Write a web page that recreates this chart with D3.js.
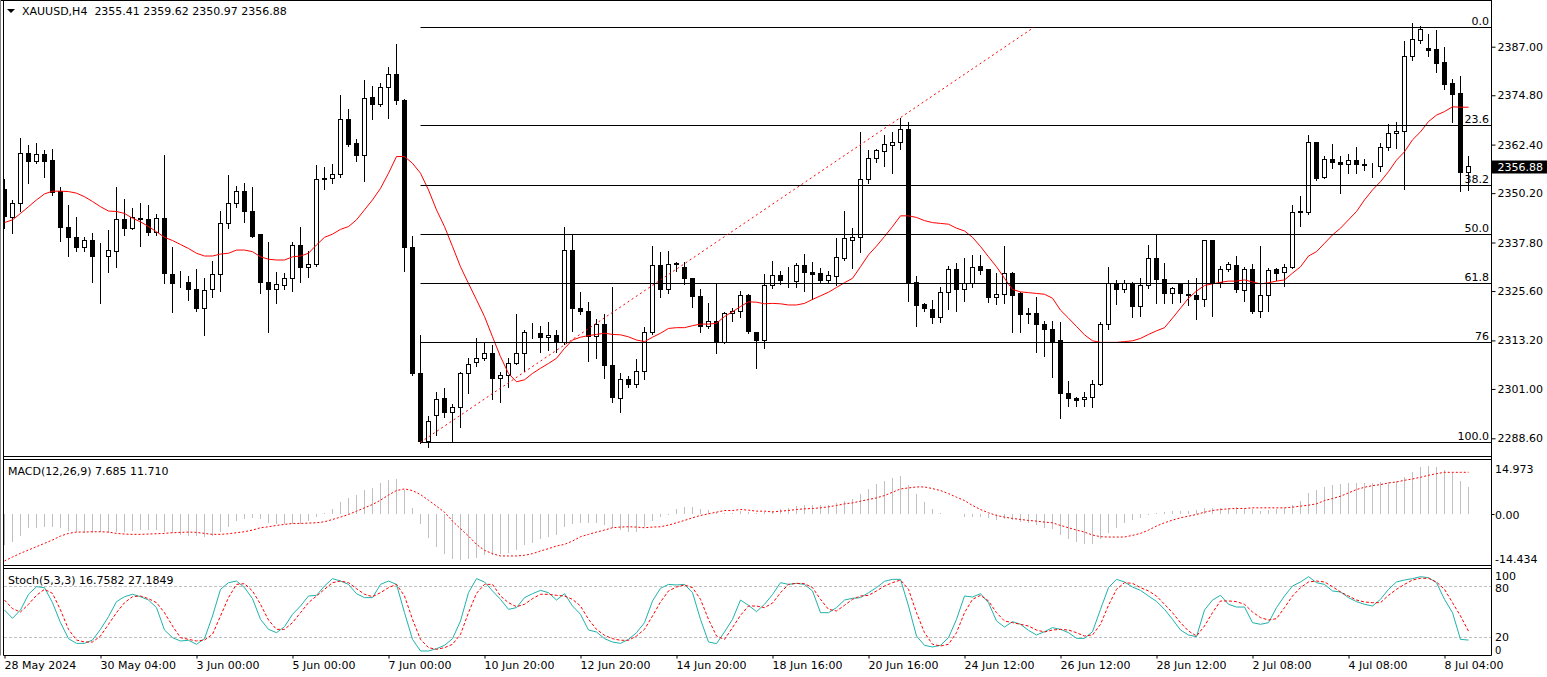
<!DOCTYPE html>
<html><head><meta charset="utf-8">
<script src="https://cdn.jsdelivr.net/npm/d3@7"></script>
<style>
html,body{margin:0;padding:0;background:#fff;overflow:hidden;}
svg{display:block;}
text{font-family:"DejaVu Sans",sans-serif;font-size:11px;fill:#000;}
</style></head><body>
<svg id="c" width="1547" height="677"></svg>
<script>
// ---------- DATA ----------
const symbolTitle = "XAUUSD,H4";
const lastOHLC = "2355.41 2359.62 2350.97 2356.88";
const macdTitle = "MACD(12,26,9) 7.685 11.710";
const stochTitle = "Stoch(5,3,3) 16.7582 27.1849";

const timeLabels = ["28 May 2024","30 May 04:00","3 Jun 00:00","5 Jun 00:00","7 Jun 00:00","10 Jun 20:00","12 Jun 20:00","14 Jun 20:00","18 Jun 16:00","20 Jun 16:00","24 Jun 12:00","26 Jun 12:00","28 Jun 12:00","2 Jul 08:00","4 Jul 08:00","8 Jul 04:00"];
const timeLabelBars = [0,12,24,36,48,60,72,84,96,108,120,132,144,156,168,180];

const priceTicks = [2387.00,2374.80,2362.40,2350.20,2337.80,2325.60,2313.20,2301.00,2288.60];
const lastPrice = 2356.88;

const fibLevels = [0,23.6,38.2,50,61.8,76,100];
const fibLabels = ["0.0","23.6","38.2","50.0","61.8","76","100.0"];
const fibHigh = 2391.9, fibLow = 2287.6;
const fibBars = [52, 128.7];

const macdScaleLabels = ["14.973","0.00","-14.434"];
const macdMax = 14.973, macdMin = -14.434;
const stochLevels = [80,20];
const stochScaleLabels = ["100","80","20","0"];

const open = [2351.0,2344.1,2347.5,2360.2,2358.1,2359.8,2358.3,2350.6,2341.6,2339.1,
2336.5,2338.4,2334.3,2334.2,2335.5,2343.6,2341.4,2343.9,2343.6,2340.3,
2343.9,2329.8,2327.5,2327.8,2325.9,2321.3,2325.9,2329.8,2342.6,2347.6,
2350.6,2345.7,2339.7,2327.8,2326.0,2327.0,2328.8,2337.0,2331.5,2332.3,
2353.7,2353.9,2355.0,2368.6,2362.7,2359.6,2374.3,2372.4,2376.8,2380.1,
2373.6,2336.6,2304.9,2287.8,2294.3,2298.5,2295.1,2296.4,2304.9,2307.6,
2308.7,2309.8,2303.7,2304.3,2307.4,2310.0,2315.1,2315.0,2314.0,2314.4,
2312.6,2335.7,2321.3,2320.4,2314.3,2317.1,2307.0,2298.7,2303.4,2302.2,
2305.5,2315.2,2331.9,2326.0,2332.6,2331.6,2328.8,2324.3,2316.7,2317.9,
2312.6,2320.0,2320.4,2324.4,2315.2,2313.1,2326.9,2329.4,2328.3,2327.9,
2331.9,2330.3,2329.9,2328.2,2329.2,2333.8,2338.3,2339.1,2353.7,2358.9,
2360.6,2362.1,2363.0,2366.2,2327.8,2322.3,2321.0,2319.0,2325.3,2330.9,
2326.0,2327.5,2331.7,2330.9,2323.9,2324.8,2330.1,2324.9,2319.9,2320.0,
2317.1,2316.0,2313.1,2299.9,2298.6,2298.4,2298.9,2302.2,2317.1,2327.5,
2326.0,2327.5,2321.7,2327.0,2333.8,2328.5,2324.9,2327.3,2324.8,2324.6,
2323.5,2338.2,2327.7,2330.9,2332.0,2325.7,2330.9,2320.4,2324.4,2330.9,
2330.2,2331.5,2345.3,2345.4,2362.9,2354.2,2358.7,2357.9,2357.4,2358.4,
2357.5,2356.9,2356.9,2361.7,2365.2,2365.6,2384.5,2388.5,2386.6,2386.2,
2383.1,2377.8,2375.3,2355.41];
const high = [2353.8,2348.5,2364.1,2362.3,2362.7,2361.0,2361.3,2351.7,2347.2,2344.1,
2339.3,2340.1,2337.6,2340.9,2351.7,2348.7,2346.4,2347.6,2347.2,2345.0,
2359.8,2336.6,2330.7,2329.4,2331.1,2329.0,2333.2,2345.7,2354.8,2352.0,
2352.8,2351.7,2339.9,2337.8,2330.3,2330.2,2337.8,2341.6,2335.7,2357.3,
2356.7,2357.5,2374.9,2371.3,2363.7,2378.6,2377.1,2378.0,2381.8,2387.7,
2373.8,2339.4,2314.6,2294.2,2300.2,2301.2,2297.2,2305.2,2308.7,2313.7,
2312.5,2312.0,2305.2,2308.7,2319.8,2315.8,2317.5,2316.8,2317.7,2315.8,
2341.8,2339.7,2325.3,2322.8,2318.6,2319.8,2326.7,2305.1,2304.3,2308.5,
2316.5,2336.8,2335.5,2335.7,2333.0,2332.8,2328.9,2326.1,2322.7,2327.5,
2320.4,2321.3,2325.6,2324.9,2315.3,2329.9,2333.2,2330.6,2331.7,2332.7,
2334.9,2333.0,2331.5,2330.6,2339.0,2345.8,2341.4,2365.6,2361.0,2361.2,
2364.8,2365.5,2369.0,2368.0,2329.4,2322.7,2323.4,2326.7,2331.9,2332.6,
2334.0,2334.7,2334.7,2331.1,2330.1,2336.9,2330.5,2325.3,2321.3,2324.0,
2318.1,2318.2,2317.9,2303.0,2299.1,2300.2,2303.3,2317.7,2331.7,2328.4,
2328.5,2327.9,2328.8,2337.2,2339.9,2332.6,2326.7,2327.7,2328.5,2329.0,
2338.4,2338.4,2331.9,2333.0,2334.4,2331.7,2332.4,2336.8,2331.5,2331.3,
2332.4,2347.2,2349.5,2364.8,2363.0,2359.5,2362.5,2359.5,2360.0,2361.7,
2358.9,2357.7,2362.9,2367.5,2368.0,2388.5,2392.9,2392.2,2390.1,2391.2,
2386.8,2378.8,2379.6,2359.62];
const low = [2341.4,2340.1,2345.8,2352.7,2357.7,2354.3,2349.7,2338.3,2334.5,2335.7,
2335.7,2327.9,2322.5,2330.5,2331.7,2339.7,2341.3,2336.8,2339.7,2339.7,
2327.5,2320.4,2326.7,2323.4,2320.7,2314.6,2324.2,2325.6,2341.4,2346.8,
2343.0,2339.1,2325.2,2315.4,2322.5,2326.0,2325.7,2327.9,2329.2,2331.9,
2351.2,2352.7,2354.3,2362.1,2358.4,2353.3,2368.8,2372.2,2369.2,2372.6,
2330.7,2304.4,2287.5,2286.5,2289.4,2293.9,2287.8,2291.5,2300.1,2306.8,
2308.3,2298.5,2297.6,2301.4,2307.3,2305.6,2313.7,2310.4,2310.8,2310.4,
2312.3,2315.6,2319.8,2307.9,2308.9,2303.7,2297.6,2295.3,2301.6,2301.4,
2303.4,2314.7,2324.0,2325.2,2330.7,2327.4,2321.5,2315.4,2316.2,2310.0,
2312.5,2318.2,2319.0,2315.0,2306.3,2311.4,2326.3,2327.3,2326.5,2326.7,
2325.7,2323.6,2327.8,2327.9,2327.1,2333.4,2331.5,2335.3,2352.7,2358.1,
2356.9,2355.2,2361.2,2323.2,2316.7,2320.7,2317.5,2317.7,2321.1,2320.7,
2323.2,2326.7,2329.9,2322.9,2322.4,2322.7,2315.4,2315.4,2317.6,2310.4,
2309.3,2304.1,2293.6,2296.8,2296.6,2296.6,2296.4,2302.0,2316.0,2322.3,
2325.4,2319.0,2319.4,2326.3,2322.7,2322.7,2322.7,2322.8,2322.1,2318.5,
2321.8,2319.3,2326.5,2330.7,2325.4,2323.2,2320.2,2319.0,2320.7,2328.4,
2326.9,2331.3,2342.0,2344.9,2353.5,2354.1,2356.4,2350.3,2355.3,2355.3,
2356.0,2354.2,2355.8,2361.0,2361.5,2351.2,2383.7,2388.0,2384.7,2380.6,
2376.4,2368.2,2350.8,2350.97];
const close = [2344.3,2347.5,2360.2,2358.1,2360.0,2358.1,2350.3,2341.5,2339.0,2336.5,
2338.4,2334.2,2334.2,2335.9,2343.6,2341.4,2344.0,2343.5,2340.3,2343.9,
2330.1,2327.5,2327.4,2325.9,2321.3,2325.7,2329.8,2342.6,2347.6,2350.6,
2345.5,2339.4,2327.7,2326.0,2327.3,2328.8,2337.0,2331.5,2332.3,2353.7,
2353.9,2355.0,2368.6,2362.5,2359.6,2374.0,2372.5,2376.8,2380.1,2373.4,
2336.6,2304.8,2287.8,2292.8,2298.4,2295.0,2296.4,2304.9,2307.2,2308.7,
2309.8,2303.7,2304.3,2307.4,2310.0,2315.2,2315.2,2314.0,2314.4,2312.6,
2335.7,2321.3,2320.4,2314.3,2317.1,2306.8,2298.9,2303.4,2302.2,2305.5,
2315.2,2331.9,2326.0,2332.3,2332.3,2328.8,2324.2,2316.7,2317.9,2312.6,
2320.0,2320.4,2324.4,2315.4,2313.1,2326.9,2329.4,2328.2,2328.2,2331.9,
2330.2,2329.8,2328.2,2329.4,2334.0,2338.7,2339.1,2353.7,2358.9,2360.8,
2362.3,2363.0,2366.2,2327.7,2321.9,2321.3,2319.0,2325.3,2330.9,2326.0,
2327.5,2331.6,2330.7,2323.9,2324.8,2330.1,2324.4,2319.7,2319.7,2317.2,
2316.0,2312.9,2299.9,2298.6,2298.1,2298.9,2302.2,2317.1,2327.5,2326.0,
2327.5,2321.7,2327.1,2333.8,2328.5,2324.9,2326.3,2324.9,2324.4,2323.5,
2338.2,2327.7,2330.9,2332.2,2326.0,2330.9,2320.4,2324.4,2330.7,2329.9,
2331.5,2345.3,2345.5,2362.9,2353.9,2358.7,2357.9,2357.4,2358.4,2357.4,
2357.1,2357.0,2361.7,2365.2,2365.6,2384.5,2388.8,2391.2,2386.0,2382.8,
2377.6,2375.1,2355.3,2356.88];
const maValues = [2342.8,2343.5,2345.1,2346.8,2348.5,2350.0,2350.7,2350.7,2350.6,2350.2,
2349.3,2348.1,2346.8,2345.7,2345.6,2345.1,2343.9,2343.0,2341.8,2340.5,
2339.1,2338.3,2337.3,2336.3,2335.1,2334.4,2334.4,2334.9,2335.1,2335.9,
2335.9,2335.5,2334.2,2333.6,2333.4,2333.4,2334.2,2334.4,2335.1,2337.2,
2339.1,2339.9,2341.1,2341.8,2343.5,2346.0,2348.5,2351.4,2355.2,2359.4,
2359.4,2357.7,2355.2,2351.0,2346.0,2341.8,2336.8,2331.7,2327.5,2323.4,
2319.2,2314.1,2309.1,2304.9,2302.8,2303.3,2304.9,2306.2,2307.4,2308.7,
2311.2,2313.3,2314.0,2314.4,2314.7,2315.0,2314.7,2314.6,2314.1,2313.3,
2312.9,2314.0,2315.0,2316.2,2316.4,2316.4,2316.9,2317.3,2317.3,2317.5,
2319.2,2320.4,2321.7,2322.9,2322.8,2322.4,2322.5,2322.4,2322.1,2322.1,
2322.5,2323.5,2324.4,2325.3,2326.5,2327.7,2328.8,2331.7,2334.7,2336.9,
2339.3,2341.8,2344.5,2344.5,2344.1,2343.3,2342.8,2342.6,2342.4,2341.4,
2340.7,2339.1,2336.8,2334.2,2331.7,2328.8,2326.0,2325.4,2325.2,2325.0,
2324.8,2323.8,2320.8,2318.8,2316.7,2314.6,2313.1,2312.7,2312.7,2312.7,
2312.9,2313.1,2313.7,2314.7,2315.6,2316.4,2318.8,2321.3,2323.8,2325.6,
2327.0,2327.4,2327.8,2328.1,2328.1,2328.4,2327.9,2327.4,2327.7,2328.1,
2328.4,2330.1,2331.7,2334.4,2335.5,2337.6,2339.7,2341.4,2343.5,2345.6,
2348.5,2351.0,2353.1,2355.6,2358.5,2360.6,2363.6,2365.6,2368.2,2369.8,
2370.7,2371.9,2371.8,2371.8];
const macdHist = [-8.56,-7.64,-5.99,-3.68,-3.68,-3.50,-3.50,-3.68,-4.60,-4.88,
-5.06,-5.25,-4.88,-5.06,-4.88,-4.88,-4.60,-4.33,-4.33,-4.33,
-4.88,-5.25,-5.71,-5.99,-5.99,-6.26,-5.99,-4.88,-3.41,-1.93,
-1.20,-1.01,-1.38,-2.30,-2.76,-2.76,-2.58,-2.58,-1.93,-0.64,
0.28,1.57,3.41,4.60,5.52,6.91,7.37,8.75,9.50,9.85,
6.91,1.84,-2.76,-6.45,-8.93,-10.87,-12.25,-12.62,-12.25,-11.97,
-11.33,-11.33,-11.05,-10.59,-9.85,-8.56,-7.83,-6.91,-6.17,-5.71,
-3.41,-2.76,-2.30,-2.30,-2.30,-3.04,-3.68,-4.33,-4.88,-4.88,
-3.41,-1.84,-0.74,-0.18,1.57,2.12,2.03,1.57,1.20,0.64,
0.46,0.46,0.92,0.64,0.46,0.64,1.00,1.57,1.84,2.30,
2.58,2.76,2.58,2.58,3.22,3.87,4.33,5.71,7.09,8.47,
9.21,10.13,10.59,8.10,5.71,3.41,1.57,0.46,0.05,0.05,
-0.64,-0.74,-0.74,-1.10,-1.57,-1.38,-1.57,-2.12,-2.30,-3.04,
-3.68,-4.14,-5.71,-6.72,-7.64,-8.10,-8.10,-6.91,-5.06,-3.68,
-2.30,-1.66,-0.92,-0.28,0.46,0.74,0.92,0.92,0.92,1.20,
1.66,1.66,1.84,1.84,2.03,1.66,1.38,0.92,1.20,1.38,
1.66,2.76,3.68,5.99,6.91,7.55,8.10,8.47,8.75,8.75,
8.75,8.75,8.93,8.93,9.21,10.41,11.79,13.08,13.35,13.08,
12.43,11.79,9.21,7.685];
const macdSignal = [-12.89,-11.79,-10.77,-9.85,-8.93,-8.01,-7.09,-5.99,-5.25,-4.88,
-4.88,-4.79,-4.79,-4.88,-5.25,-5.43,-5.52,-5.52,-5.43,-5.34,
-5.25,-5.06,-4.97,-4.88,-4.97,-5.25,-5.52,-5.52,-5.34,-5.06,
-4.79,-4.33,-3.68,-3.41,-3.04,-2.76,-2.49,-2.49,-2.39,-2.30,
-2.03,-1.38,-0.74,0.00,0.92,1.84,2.76,3.96,5.40,6.63,
7.09,6.63,5.52,3.96,2.30,0.64,-1.84,-3.96,-5.99,-8.29,
-9.94,-10.87,-11.51,-11.51,-11.51,-11.33,-10.87,-10.13,-9.48,-8.75,
-8.29,-7.37,-6.17,-5.52,-4.88,-4.33,-3.68,-3.50,-3.41,-3.50,
-3.68,-3.50,-3.41,-2.95,-2.30,-1.66,-0.92,-0.28,0.18,0.64,
1.10,1.10,1.38,1.20,0.92,0.92,0.70,0.92,1.10,1.38,
1.57,1.66,1.84,2.12,2.49,2.95,3.22,3.68,4.14,4.60,
5.25,6.17,7.09,7.37,7.64,7.64,7.18,6.63,5.80,4.79,
3.87,2.49,1.38,0.46,-0.28,-0.74,-1.10,-1.38,-1.66,-1.84,
-2.12,-2.30,-3.04,-3.68,-4.33,-4.88,-5.71,-6.17,-6.26,-6.26,
-6.26,-5.80,-5.25,-4.33,-3.22,-2.30,-1.57,-0.92,-0.46,0.00,
0.64,1.10,1.38,1.57,1.66,1.66,1.84,1.84,1.84,1.84,
1.84,2.03,2.30,2.58,2.95,3.87,4.42,5.06,5.99,6.91,
7.55,8.01,8.29,8.75,9.02,9.48,9.85,10.31,10.87,11.33,
11.69,11.69,11.69,11.71];
const stochMain = [51.9,42.2,51.9,70.3,79.2,78.1,60.5,37.1,18.4,12.9,
12.9,16.8,29.3,44.1,61.7,67.5,70.3,67.5,63.6,54.7,
28.5,19.6,15.7,16.5,11.8,18.4,44.9,76.1,83.9,85.8,
78.1,65.2,41.0,29.3,25.4,32.4,46.9,56.6,68.3,69.1,
80.0,88.6,85.8,81.9,71.0,66.4,66.4,81.9,85.8,81.9,
48.8,17.6,4.0,4.0,6.7,10.6,18.4,39.1,72.2,88.6,
84.7,74.2,64.4,52.7,54.7,66.4,71.0,74.9,72.2,63.6,
71.0,56.6,46.9,28.5,26.2,18.4,14.5,12.9,17.6,25.4,
37.1,62.5,77.3,81.9,81.2,81.9,72.2,41.0,14.5,12.6,
26.2,41.0,63.6,57.4,50.0,58.6,70.0,83.9,81.9,83.1,
81.9,74.2,48.8,48.8,54.7,63.6,65.6,66.4,72.2,78.1,
85.5,87.8,87.8,56.6,21.5,10.6,8.7,10.6,19.6,41.0,
68.3,67.1,71.0,60.5,39.1,32.0,38.3,35.2,28.1,22.7,
26.6,31.3,29.3,25.4,18.8,18.8,26.6,52.7,78.1,87.8,
84.7,78.8,74.9,68.3,62.0,52.7,41.0,28.5,22.7,20.7,
51.9,63.6,69.1,58.6,55.4,55.4,37.1,35.2,37.1,54.7,
68.3,80.0,84.7,90.9,83.9,81.9,74.2,73.0,66.4,61.7,
58.6,56.6,64.4,76.1,84.7,87.0,88.6,90.9,89.7,83.9,
64.4,48.8,17.6,16.7582];
const stochSignal = [63.6,53.5,49.6,58.6,69.1,76.1,71.4,51.9,29.3,16.8,
14.5,14.5,21.5,35.2,48.8,60.5,67.5,68.3,65.2,60.5,
48.8,33.2,19.6,17.6,15.7,16.8,23.5,44.9,66.4,81.9,
82.7,74.2,58.6,40.2,29.3,29.3,37.1,48.8,60.5,68.3,
76.1,83.9,85.8,83.9,76.9,70.3,67.5,72.2,78.1,81.9,
68.3,41.0,17.6,7.9,5.9,7.9,11.8,23.5,48.8,71.4,
81.9,81.9,68.3,60.5,55.8,58.6,65.2,70.3,70.3,69.1,
68.3,64.4,56.6,41.0,29.3,22.3,18.4,16.5,16.5,21.5,
29.3,44.9,61.3,74.2,78.8,81.2,78.1,64.4,41.0,21.5,
17.6,31.3,45.7,56.6,56.6,54.7,60.0,72.2,81.9,83.1,
82.7,78.1,64.4,52.7,50.8,57.4,64.4,68.3,69.1,74.2,
80.0,83.9,87.0,76.1,48.8,25.4,11.8,9.8,11.8,25.4,
48.8,64.4,69.1,62.5,48.8,39.1,37.1,35.2,33.2,28.5,
26.2,28.5,29.3,28.5,25.4,21.5,22.7,35.2,57.4,76.1,
83.9,83.1,78.1,74.2,68.3,58.6,48.8,37.1,27.4,21.5,
33.2,48.8,62.5,62.5,61.7,58.6,49.6,43.0,40.2,41.8,
54.7,68.3,78.1,84.7,85.8,84.7,79.2,73.0,68.3,63.6,
61.3,60.5,60.5,69.1,76.1,81.9,87.0,89.0,89.0,84.7,
76.1,60.5,44.9,27.1849];

// ---------- LAYOUT ----------
const plotL = 3.5, plotR = 1491.5;
const mainTop = 0.5, mainBot = 456.5;
const macdTop = 459.5, macdBot = 565.5;
const stTop = 568.5, stBot = 655.5;

const svg = d3.select("#c");
const n = close.length;
const idx = d3.range(n);
const x = d3.scaleLinear().domain([0, n - 1]).range([4.5, 4.5 + 8 * (n - 1)]);
const y = d3.scaleLinear().domain([2288.6, 2387]).range([438.3, 46.7]);
const yM = d3.scaleLinear().domain([macdMin, macdMax]).range([566.5, 460.5]);
const yS = d3.scaleLinear().domain([0, 100]).range([654.4, 568.9]);
const px = v => Math.round(v - 0.5) + 0.5;

const defs = svg.append("defs");
defs.append("clipPath").attr("id","cMain").append("rect").attr("x",4).attr("y",1).attr("width",plotR-4).attr("height",mainBot-1);
defs.append("clipPath").attr("id","cMacd").append("rect").attr("x",4).attr("y",macdTop+0.5).attr("width",plotR-4).attr("height",macdBot-macdTop-1);
defs.append("clipPath").attr("id","cSt").append("rect").attr("x",4).attr("y",stTop+0.5).attr("width",plotR-4).attr("height",stBot-stTop-1);

// ---------- MAIN PANEL ----------
const gMain = svg.append("g").attr("clip-path","url(#cMain)");
const candles = gMain.selectAll("g.cd").data(idx).join("g").attr("class","cd");
candles.append("line")
  .attr("x1", i => px(x(i))).attr("x2", i => px(x(i)))
  .attr("y1", i => Math.round(y(high[i]))).attr("y2", i => Math.round(y(low[i])) + 1)
  .attr("stroke","#000").attr("stroke-width",1);
candles.append("rect")
  .attr("x", i => px(x(i)) - 2).attr("width", 4)
  .attr("y", i => px(y(Math.max(open[i], close[i]))))
  .attr("height", i => Math.max(0, px(y(Math.min(open[i], close[i]))) - px(y(Math.max(open[i], close[i])))))
  .attr("fill", i => close[i] >= open[i] ? "#fff" : "#000")
  .attr("stroke","#000").attr("stroke-width",1);

// moving average
gMain.append("path").datum(idx)
  .attr("d", d3.line().x(i => x(i)).y(i => y(maValues[i])))
  .attr("fill","none").attr("stroke","#ff0000").attr("stroke-width",1);

// fibonacci
const fibPrice = l => fibHigh - (fibHigh - fibLow) * l / 100;
const fx0 = px(x(fibBars[0]));
gMain.selectAll("line.fib").data(fibLevels).join("line").attr("class","fib")
  .attr("x1", fx0).attr("x2", plotR)
  .attr("y1", l => px(y(fibPrice(l)))).attr("y2", l => px(y(fibPrice(l))))
  .attr("stroke","#000").attr("stroke-width",1);
gMain.append("line")
  .attr("x1", x(fibBars[0])).attr("y1", y(fibLow))
  .attr("x2", x(fibBars[1])).attr("y2", y(fibHigh))
  .attr("stroke","#ff0000").attr("stroke-width",1).attr("stroke-dasharray","2,3");
svg.selectAll("text.fibl").data(fibLevels).join("text").attr("class","fibl")
  .attr("x", 1489).attr("y", l => px(y(fibPrice(l))) - 2.5)
  .attr("text-anchor","end").text((l,k) => fibLabels[k]);

// header
svg.append("path").attr("d","M7,9 L15,9 L11,13 Z").attr("fill","#000");
svg.append("text").attr("x",22).attr("y",15).attr("xml:space","preserve")
  .text(symbolTitle + "  " + lastOHLC);

// ---------- MACD PANEL ----------
const gMacd = svg.append("g").attr("clip-path","url(#cMacd)");
gMacd.selectAll("line.h").data(idx).join("line").attr("class","h")
  .attr("x1", i => px(x(i))).attr("x2", i => px(x(i)))
  .attr("y1", Math.round(yM(0))).attr("y2", i => Math.round(yM(macdHist[i])))
  .attr("stroke","#c0c0c0").attr("stroke-width",1);
gMacd.append("path").datum(idx)
  .attr("d", d3.line().x(i => x(i)).y(i => yM(macdSignal[i])))
  .attr("fill","none").attr("stroke","#ff0000").attr("stroke-width",1).attr("stroke-dasharray","2,2");
svg.append("text").attr("x",8).attr("y",475).text(macdTitle);

// ---------- STOCH PANEL ----------
const gSt = svg.append("g").attr("clip-path","url(#cSt)");
gSt.selectAll("line.lv").data(stochLevels).join("line").attr("class","lv")
  .attr("x1",4).attr("x2",plotR)
  .attr("y1", d => px(yS(d))).attr("y2", d => px(yS(d)))
  .attr("stroke","#c0c0c0").attr("stroke-width",1).attr("stroke-dasharray","3,2");
gSt.append("path").datum(idx)
  .attr("d", d3.line().x(i => x(i)).y(i => yS(stochMain[i])))
  .attr("fill","none").attr("stroke","#20b2aa").attr("stroke-width",1);
gSt.append("path").datum(idx)
  .attr("d", d3.line().x(i => x(i)).y(i => yS(stochSignal[i])))
  .attr("fill","none").attr("stroke","#ff0000").attr("stroke-width",1).attr("stroke-dasharray","3,2");
svg.append("text").attr("x",8).attr("y",584).text(stochTitle);

// ---------- FRAMES ----------
const fr = svg.append("g").attr("stroke","#000").attr("stroke-width",1);
fr.append("line").attr("x1",0).attr("x2",plotR).attr("y1",mainTop).attr("y2",mainTop);
[mainBot, macdTop, macdBot, stTop, stBot].forEach(v =>
  fr.append("line").attr("x1",plotL).attr("x2",plotR).attr("y1",v).attr("y2",v));
fr.append("line").attr("x1",plotL).attr("x2",plotL).attr("y1",0).attr("y2",stBot);
fr.append("line").attr("x1",0.5).attr("x2",0.5).attr("y1",0).attr("y2",stBot).attr("stroke","#808080");
fr.append("line").attr("x1",plotR).attr("x2",plotR).attr("y1",0).attr("y2",stBot);

// ---------- AXES ----------
const yAxis = d3.axisRight(y).tickValues(priceTicks).tickFormat(d3.format(".2f")).tickSizeInner(4).tickSizeOuter(0).tickPadding(2);
const gY = svg.append("g").attr("transform",`translate(${plotR},0)`).call(yAxis);
gY.select(".domain").remove();
gY.selectAll(".tick line").attr("stroke","#000");
gY.selectAll(".tick text").attr("font-family","DejaVu Sans").attr("font-size",11).attr("fill","#000");

const xAxis = d3.axisBottom(x).tickValues(timeLabelBars).tickFormat((d,k) => timeLabels[k]).tickSizeInner(3).tickSizeOuter(0).tickPadding(3);
const gX = svg.append("g").attr("transform",`translate(0,${stBot})`).call(xAxis);
gX.select(".domain").remove();
gX.selectAll(".tick line").attr("stroke","#000");
gX.selectAll(".tick text").attr("text-anchor","start").attr("x",-0.5)
  .attr("font-family","DejaVu Sans").attr("font-size",11).attr("fill","#000");

// indicator scale labels
const macdLabY = [472.7, px(yM(0)) + 4, 562.7];
svg.selectAll("text.ml").data(macdScaleLabels).join("text").attr("class","ml")
  .attr("x",1495).attr("y",(d,k) => macdLabY[k]).text(d => d);
svg.append("line").attr("x1",plotR).attr("x2",plotR+3).attr("y1",px(yM(0))).attr("y2",px(yM(0))).attr("stroke","#000");
const stLabY = [580, 591.5, 640.5, 653.5];
const stLabSize = [11, 11, 11, 10];
svg.selectAll("text.sl").data(stochScaleLabels).join("text").attr("class","sl")
  .attr("x",1495).attr("y",(d,k) => stLabY[k]).style("font-size",(d,k) => stLabSize[k] + "px").text(d => d);

// current price label
const cy = y(lastPrice);
svg.append("rect").attr("x",1492).attr("y",Math.round(cy) - 6.5).attr("width",55).attr("height",13).attr("fill","#000");
svg.append("text").attr("x",1497.5).attr("y",Math.round(cy) + 4).style("fill","#fff").text(d3.format(".2f")(lastPrice));
</script>
</body></html>
